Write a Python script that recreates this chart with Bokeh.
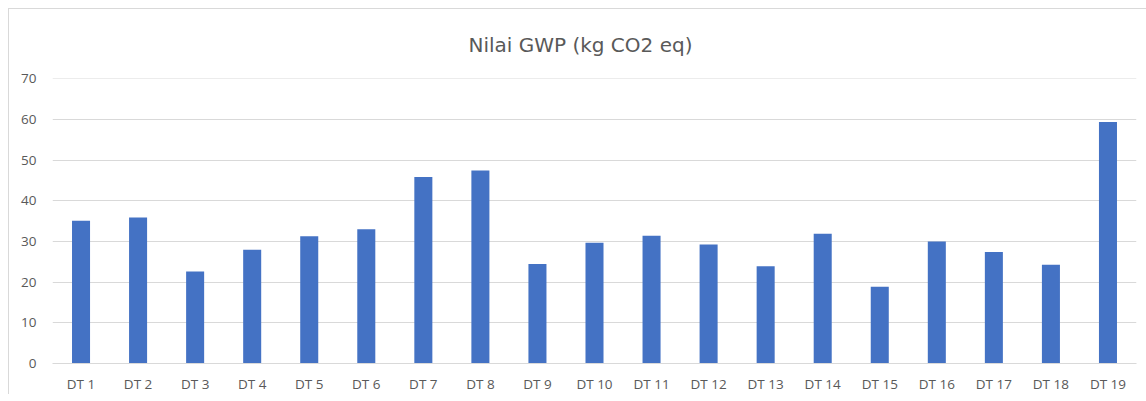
from bokeh.plotting import figure
from bokeh.models import Range1d, FactorRange
from bokeh.embed import file_html
from bokeh.resources import INLINE

categories = ["DT 1", "DT 2", "DT 3", "DT 4", "DT 5", "DT 6", "DT 7", "DT 8", "DT 9", "DT 10",
              "DT 11", "DT 12", "DT 13", "DT 14", "DT 15", "DT 16", "DT 17", "DT 18", "DT 19"]
gwp = [35.1, 35.9, 22.6, 28.0, 31.3, 33.0, 45.9, 47.5, 24.5, 29.7,
       31.4, 29.3, 23.9, 31.9, 18.9, 30.0, 27.4, 24.3, 59.4]
y_ticks = [0, 10, 20, 30, 40, 50, 60, 70]

FONT = "Open Sans"
TITLE_FONT = "DejaVu Sans"
GREY = "#595959"
GRID = "#d9d9d9"

p = figure(x_range=FactorRange(*categories, range_padding=0), y_range=Range1d(0, 70.1),
           width=1138, height=386, output_backend="svg", toolbar_location=None,
           min_border_left=43, min_border_right=11, min_border_top=69, min_border_bottom=30,
           title="Nilai GWP (kg CO2 eq)")
p.styles = {"margin-left": "8px", "margin-top": "8px",
            "border-top": f"1px solid {GRID}", "border-left": f"1px solid {GRID}"}

p.vbar(x=categories, top=gwp, width=0.316, fill_color="#4472C4", line_color=None)

p.title.align = "left"
p.title.text_font = TITLE_FONT
p.title.text_font_size = "20px"
p.title.text_font_style = "normal"
p.title.text_color = GREY
p.title.offset = 416
p.title.standoff = 43

p.outline_line_color = None
p.background_fill_color = "white"
p.border_fill_color = "white"

p.xgrid.grid_line_color = None
p.ygrid.grid_line_color = GRID
p.ygrid.grid_line_width = 1
p.yaxis.ticker = y_ticks

p.yaxis.axis_line_color = None
p.yaxis.major_tick_line_color = None
p.yaxis.minor_tick_line_color = None
p.yaxis.major_label_standoff = 10
p.xaxis.axis_line_color = GRID
p.xaxis.major_tick_line_color = None
p.xaxis.minor_tick_line_color = None
p.xaxis.major_label_standoff = 5

for ax in (p.xaxis, p.yaxis):
    ax.major_label_text_font = FONT
    ax.major_label_text_font_size = "13.5px"
    ax.major_label_text_color = GREY

open("out.html", "w").write(file_html(p, INLINE))
